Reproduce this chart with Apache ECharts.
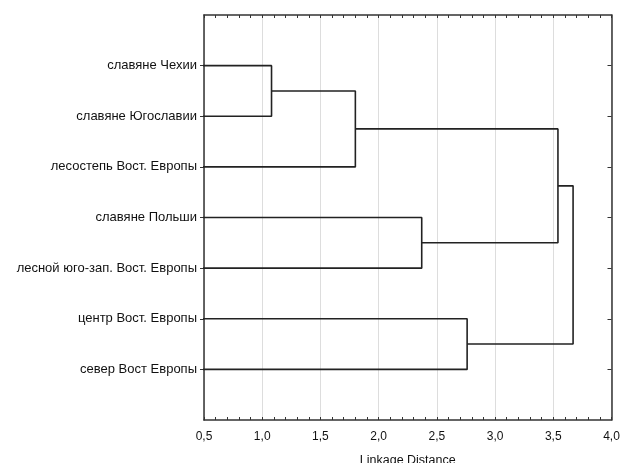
<!DOCTYPE html>
<html><head><meta charset="utf-8">
<script src="https://cdn.jsdelivr.net/npm/echarts@6/dist/echarts.min.js"></script>
<style>html,body{margin:0;padding:0;background:#fff}#c{width:621px;height:463px}</style>
</head><body><div id="c"></div>
<script>
// Leaves (top to bottom)
const leafNames = ["славяне Чехии","славяне Югославии","лесостепь Вост. Европы","славяне Польши","лесной юго-зап. Вост. Европы","центр Вост. Европы","север Вост Европы"];
// Linkage: [childA, childB, distance]; new cluster ids start at leafNames.length
const mergeA = [0, 7, 3, 8, 5, 10];
const mergeB = [1, 2, 4, 9, 6, 11];
const mergeDist = [1.08, 1.80, 2.37, 3.54, 2.76, 3.67];
const xTicks = [0.5, 1.0, 1.5, 2.0, 2.5, 3.0, 3.5, 4.0];
const xTitle = "Linkage Distance";

const nodeX = leafNames.map(() => 0);
const nodeY = leafNames.map((_, i) => i + 1);
const series = [];
for (let k = 0; k < mergeDist.length; k++) {
  const a = mergeA[k], b = mergeB[k], h = mergeDist[k];
  series.push({
    type: 'line', xAxisIndex: 0, yAxisIndex: 0, symbol: 'none', silent: true, clip: true,
    lineStyle: { color: '#222', width: 1.6 },
    data: [[nodeX[a], nodeY[a]], [h, nodeY[a]], [h, nodeY[b]], [nodeX[b], nodeY[b]]]
  });
  nodeX.push(h);
  nodeY.push((nodeY[a] + nodeY[b]) / 2);
}
const leafPos = leafNames.map((_, i) => i + 1);
const fnt = '"Liberation Sans", Arial, sans-serif';
const chart = echarts.init(document.getElementById('c'), null, { renderer: 'canvas' });
const axisLine = { show: true, onZero: false, lineStyle: { color: '#333', width: 1.5 } };
chart.setOption({
  animation: false,
  backgroundColor: '#fff',
  grid: { left: 204, right: 9.5, top: 15, bottom: 43, containLabel: false, outerBoundsMode: 'none' },
  xAxis: [{
    type: 'value', position: 'bottom', min: xTicks[0], max: xTicks[xTicks.length - 1], interval: 0.5,
    axisLine: axisLine,
    axisTick: { show: true, inside: true, length: 3, lineStyle: { color: '#333' } },
    minorTick: { show: true, splitNumber: 5, length: 3, lineStyle: { color: '#333' } },
    splitLine: { show: true, lineStyle: { color: '#ddd', width: 1 } },
    axisLabel: { color: '#111', fontSize: 12, fontFamily: fnt, margin: 11,
      formatter: v => v.toFixed(1).replace('.', ',') },
    name: xTitle, nameLocation: 'middle', nameGap: 34,
    nameTextStyle: { color: '#111', fontSize: 12.5, fontFamily: fnt }
  }, {
    type: 'value', position: 'top', min: xTicks[0], max: xTicks[xTicks.length - 1], interval: 0.5,
    axisLine: axisLine,
    axisTick: { show: true, inside: true, length: 3, lineStyle: { color: '#333' } },
    minorTick: { show: true, splitNumber: 5, length: 3, lineStyle: { color: '#333' } },
    splitLine: { show: false }, axisLabel: { show: false }
  }],
  yAxis: [{
    type: 'value', position: 'left', inverse: true, min: 0, max: leafNames.length + 1, interval: 1,
    axisLine: axisLine, splitLine: { show: false },
    axisTick: { show: true, inside: false, length: 4, customValues: leafPos, lineStyle: { color: '#333' } },
    axisLabel: { color: '#111', fontSize: 13, fontFamily: fnt, margin: 7, customValues: leafPos,
      formatter: v => leafNames[Math.round(v) - 1] || '' }
  }, {
    type: 'value', position: 'right', inverse: true, min: 0, max: leafNames.length + 1, interval: 1,
    axisLine: axisLine, splitLine: { show: false },
    axisTick: { show: true, inside: true, length: 4, customValues: leafPos, lineStyle: { color: '#333' } },
    axisLabel: { show: false }
  }],
  series: series
});
</script></body></html>
